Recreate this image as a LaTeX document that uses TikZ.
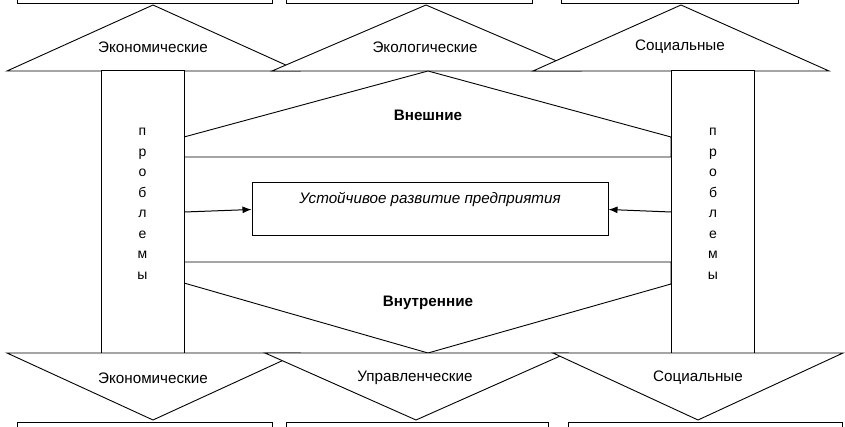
\documentclass[tikz,border=0pt]{standalone}
\usepackage{fontspec}
\setmainfont{Liberation Sans}
\usetikzlibrary{arrows.meta}
\begin{document}
\begin{tikzpicture}[x=1pt,y=-1pt,
  edge/.style={draw=black,line width=1pt},
  polyg/.style={draw=black,fill=white,line width=0.9pt,line join=miter},
  lbl/.style={font=\fontsize{15.2}{17}\selectfont,inner sep=0pt,text=black},
  blbl/.style={font=\fontsize{15.2}{17}\selectfont\bfseries,inner sep=0pt},
  col/.style={draw=black,fill=white,line width=1pt,minimum width=83pt,minimum height=282pt,inner sep=0pt},
  arr/.style={draw=black,line width=1pt,-{Latex[length=9pt,width=7pt]}}]
\useasboundingbox (0,0) rectangle (845,427);
\clip (0,0) rectangle (845,427);
\fill[white] (0,0) rectangle (845,427);
% top boxes
\draw[edge] (17,-20) rectangle (272,4);
\draw[edge] (286,-20) rectangle (532,4);
\draw[edge] (561,-20) rectangle (798,4);
% top triangles
\path[polyg] (7,71) -- (153,5) -- (299,71) -- cycle;
\path[polyg] (272,71) -- (426,5) -- (580,71) -- cycle;
\path[polyg] (533,71) -- (681,5) -- (829,71) -- cycle;
\node[lbl] (t1) at (153,47) {Экономические};
\node[lbl] (t2) at (425,47) {Экологические};
\node[lbl] (t3) at (680,47) {Социальные};
% upper pentagon
\path[polyg] (184,157) -- (184,137) -- (428,71) -- (671,137) -- (671,157) -- cycle;
\node[blbl] (ext) at (428,115) {Внешние};
% lower pentagon
\path[polyg] (184,262) -- (671,262) -- (671,284) -- (428,353) -- (184,283) -- cycle;
\node[blbl] (int) at (428,303) {Внутренние};
% columns
\node[col] (L) at (142.5,212) {};
\node[col] (R) at (713,212) {};
\node[lbl,align=center,font=\fontsize{14}{20.5}\selectfont] (lt) at (142.5,204) {п\\р\\о\\б\\л\\е\\м\\ы};
\node[lbl,align=center,font=\fontsize{14}{20.5}\selectfont] (rt) at (713,204) {п\\р\\о\\б\\л\\е\\м\\ы};
% middle box
\node[draw=black,line width=1pt,fill=white,minimum width=356pt,minimum height=53pt,inner sep=0pt] (M) at (430,209.5) {};
\node[lbl,font=\fontsize{15.2}{17}\selectfont\itshape] (mt) at (430,199) {Устойчивое развитие предприятия};
\draw[arr] (L.east) -- (M.west);
\draw[arr] (R.west) -- (M.east);
% bottom triangles
\path[polyg] (7,353) -- (153,420) -- (299,353) -- cycle;
\path[polyg] (265,353) -- (416,420) -- (567,353) -- cycle;
\path[polyg] (553,353) -- (698,420) -- (843,353) -- cycle;
\node[lbl] (b1) at (153,378) {Экономические};
\node[lbl] (b2) at (415,378) {Управленческие};
\node[lbl] (b3) at (698,378) {Социальные};
% bottom boxes
\draw[edge] (17,422) rectangle (272,450);
\draw[edge] (286,422) rectangle (548,450);
\draw[edge] (568,422) rectangle (842,450);
\end{tikzpicture}
\end{document}
